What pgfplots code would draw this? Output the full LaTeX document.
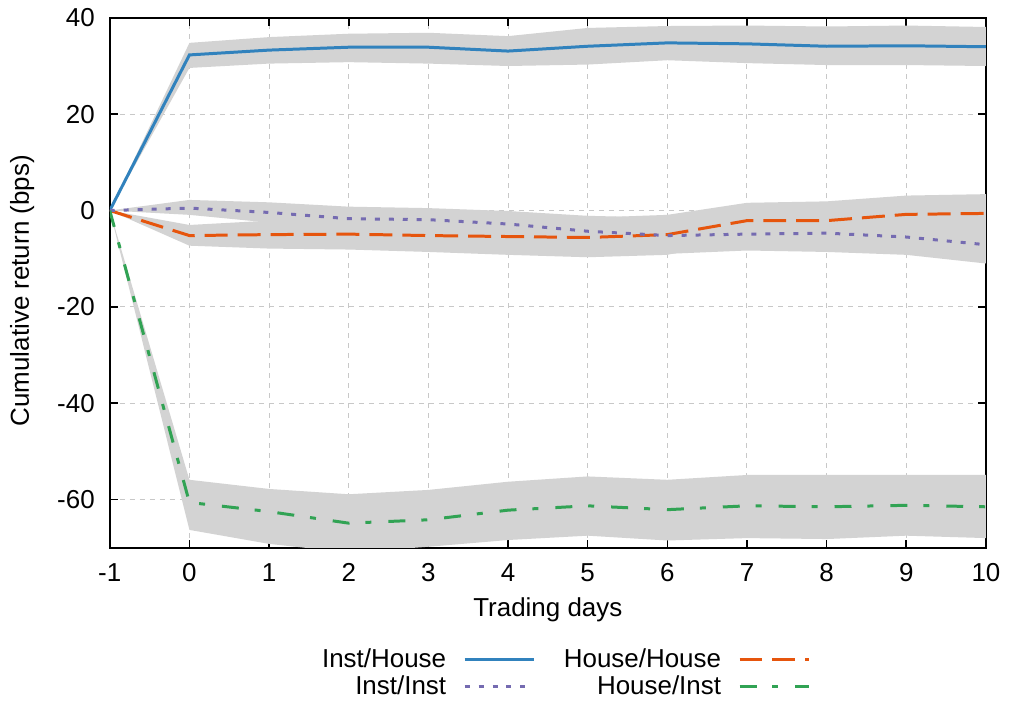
\documentclass[border=0pt]{standalone}
\usepackage{fontspec}
\setmainfont{Liberation Sans}
\usepackage{pgfplots}
\pgfplotsset{compat=1.18}
\usepgfplotslibrary{fillbetween}
\definecolor{cblue}{RGB}{49,130,189}
\definecolor{corange}{RGB}{230,85,13}
\definecolor{cpurple}{RGB}{117,107,177}
\definecolor{cgreen}{RGB}{49,163,84}
\definecolor{bandgray}{RGB}{211,211,211}
\definecolor{gridgray}{RGB}{200,200,200}
\begin{document}
\fontsize{13}{15}\selectfont
\begin{tikzpicture}
\begin{axis}[
  set layers,
  scale only axis,
  width=439pt, height=265.5pt,
  xmin=-1, xmax=10, ymin=-70, ymax=40,
  xtick={-1,0,1,2,3,4,5,6,7,8,9,10},
  xticklabels={-1,0,1,2,3,4,5,6,7,8,9,10},
  ytick={-60,-40,-20,0,20,40},
  yticklabels={-60,-40,-20,0,20,40},
  tick align=inside,
  major tick length=4pt,
  every tick/.style={black, line width=0.8pt},
  axis line style={line width=0.9pt},
  grid=major,
  major grid style={gridgray, dash pattern=on 2.5pt off 2.5pt, line width=0.5pt},
  ticklabel style={font=\fontsize{13}{15}\selectfont},
  xticklabel style={yshift=-3.5pt},
  yticklabel style={xshift=-3pt},
  xlabel={Trading days},
  ylabel={Cumulative return (bps)},
  label style={font=\fontsize{13}{15}\selectfont},
  x label style={at={(axis description cs:0.5,-0.117)}, anchor=center},
  y label style={at={(axis description cs:-0.1,0.485)}, anchor=center},
  legend columns=2,
  legend plot pos=right,
  legend cell align=right,
  legend image code/.code={\draw[#1] (0pt,0pt) -- (35pt,0pt);},
  legend style={at={(0.519,-0.237)}, anchor=center, draw=none, fill=none,
    font=\fontsize{13}{15}\selectfont, row sep=-2pt,
    /tikz/every odd column/.append style={column sep=6.5pt},
    /tikz/every even column/.append style={column sep=12pt}},
]
% bands
\addplot[name path=bu, draw=none, forget plot] coordinates {(-1,0) (0,34.8) (1,36.0) (2,36.7) (3,36.9) (4,36.2) (5,37.9) (6,38.3) (7,38.4) (8,38.2) (9,38.4) (10,38.1)};
\addplot[name path=bl, draw=none, forget plot] coordinates {(-1,0) (0,29.6) (1,30.5) (2,30.8) (3,30.5) (4,30.0) (5,30.3) (6,31.2) (7,30.6) (8,30.2) (9,30.2) (10,30.0)};
\addplot[bandgray, forget plot, on layer=axis background] fill between[of=bu and bl];
\addplot[name path=ou, draw=none, forget plot] coordinates {(-1,0) (0,-3.0) (1,-2.1) (2,-1.7) (3,-1.8) (4,-1.6) (5,-1.5) (6,-0.9) (7,1.6) (8,1.9) (9,3.1) (10,3.4)};
\addplot[name path=ol, draw=none, forget plot] coordinates {(-1,0) (0,-7.3) (1,-7.9) (2,-8.1) (3,-8.6) (4,-9.2) (5,-9.7) (6,-9.2) (7,-5.8) (8,-6.1) (9,-4.7) (10,-4.6)};
\addplot[bandgray, forget plot, on layer=axis background] fill between[of=ou and ol];
\addplot[name path=pu, draw=none, forget plot] coordinates {(-1,0) (0,2.2) (1,1.7) (2,0.8) (3,0.5) (4,-0.1) (5,-1.1) (6,-1.5) (7,-1.5) (8,-1.2) (9,-1.8) (10,-3.2)};
\addplot[name path=pl, draw=none, forget plot] coordinates {(-1,0) (0,-0.9) (1,-2.5) (2,-4.2) (3,-4.3) (4,-5.5) (5,-7.5) (6,-9.0) (7,-8.3) (8,-8.6) (9,-9.2) (10,-11.0)};
\addplot[bandgray, forget plot, on layer=axis background] fill between[of=pu and pl];
\addplot[name path=gu, draw=none, forget plot] coordinates {(-1,0) (0,-55.9) (1,-57.8) (2,-58.9) (3,-58.0) (4,-56.3) (5,-55.2) (6,-55.9) (7,-54.9) (8,-54.9) (9,-54.9) (10,-54.9)};
\addplot[name path=gl, draw=none, forget plot] coordinates {(-1,0) (0,-66.3) (1,-69.2) (2,-71.0) (3,-69.8) (4,-68.4) (5,-67.5) (6,-68.5) (7,-68.0) (8,-68.2) (9,-67.5) (10,-68.0)};
\addplot[bandgray, forget plot, on layer=axis background] fill between[of=gu and gl];
% lines
\addplot[cblue, line width=1.5pt] coordinates {(-1,0) (0,32.3) (1,33.3) (2,33.9) (3,33.9) (4,33.1) (5,34.1) (6,34.8) (7,34.6) (8,34.1) (9,34.2) (10,34.0)};
\addlegendentry{Inst/House}
\addplot[corange, line width=1.5pt, dash pattern=on 11.5pt off 5pt] coordinates {(-1,0) (0,-5.2) (1,-5.0) (2,-4.9) (3,-5.2) (4,-5.4) (5,-5.6) (6,-5.0) (7,-2.1) (8,-2.1) (9,-0.8) (10,-0.6)};
\addlegendentry{House/House}
\addplot[cpurple, line width=1.5pt, dash pattern=on 2.5pt off 4.5pt] coordinates {(-1,0) (0,0.5) (1,-0.4) (2,-1.7) (3,-1.9) (4,-2.8) (5,-4.3) (6,-5.2) (7,-4.9) (8,-4.7) (9,-5.5) (10,-7.1)};
\addlegendentry{Inst/Inst}
\addplot[cgreen, line width=1.5pt, dash pattern=on 8.5pt off 8pt on 3pt off 8.5pt] coordinates {(-1,0) (0,-60.6) (1,-62.5) (2,-64.9) (3,-64.2) (4,-62.2) (5,-61.3) (6,-62.1) (7,-61.3) (8,-61.5) (9,-61.2) (10,-61.5)};
\addlegendentry{House/Inst}
\end{axis}
\path (-55pt,-77.5pt) rectangle (449.5pt,273.5pt);
\end{tikzpicture}
\end{document}
